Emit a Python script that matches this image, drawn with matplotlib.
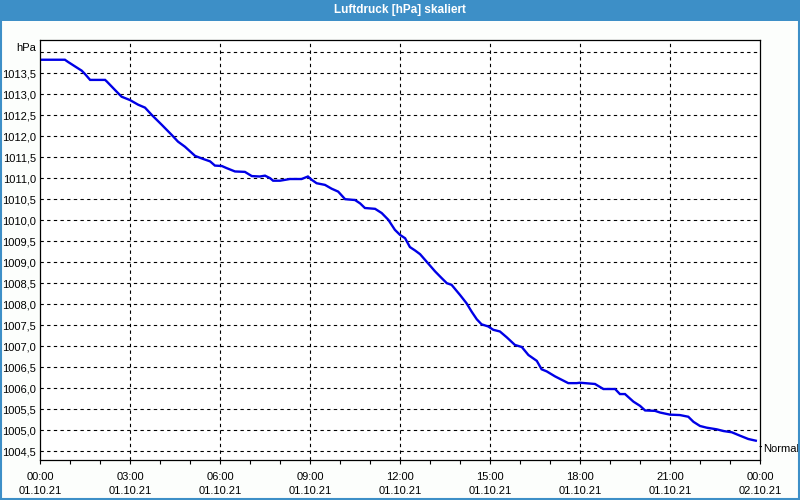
import numpy as np
import matplotlib
matplotlib.use("Agg")
import matplotlib.pyplot as plt
from matplotlib.patches import Rectangle

plt.rcParams['font.family'] = ['DejaVu Sans Condensed', 'Liberation Sans', 'DejaVu Sans']

# Data: hours since 01.10.21 00:00, pressure in hPa
hours = [0.0, 0.83, 0.93, 1.17, 1.39, 1.5, 1.67, 2.17, 2.23, 2.5, 2.72, 3.0, 3.27, 3.5,
         3.72, 4.06, 4.39, 4.6, 4.83, 5.17, 5.43, 5.67, 5.83, 6.06, 6.22, 6.5, 6.83, 7.06,
         7.33, 7.5, 7.67, 7.77, 8.0, 8.33, 8.72, 8.93, 9.06, 9.22, 9.5, 9.72, 9.94, 10.17,
         10.5, 10.67, 10.83, 11.17, 11.39, 11.61, 11.83, 12.0, 12.17, 12.33, 12.5, 12.67,
         12.89, 13.17, 13.39, 13.56, 13.72, 14.0, 14.22, 14.39, 14.56, 14.72, 14.94, 15.11,
         15.33, 15.56, 15.83, 16.06, 16.28, 16.56, 16.72, 16.89, 17.17, 17.39, 17.61, 17.89,
         18.0, 18.5, 18.78, 19.17, 19.33, 19.5, 19.78, 20.0, 20.17, 20.5, 20.67, 21.0,
         21.33, 21.61, 21.78, 22.0, 22.22, 22.56, 22.78, 23.06, 23.33, 23.61, 23.86]
pressure = [1013.82, 1013.82, 1013.77, 1013.66, 1013.56, 1013.48, 1013.34, 1013.34, 1013.30,
            1013.10, 1012.94, 1012.86, 1012.75, 1012.68, 1012.51, 1012.27, 1012.03, 1011.87,
            1011.75, 1011.53, 1011.46, 1011.40, 1011.30, 1011.29, 1011.24, 1011.16, 1011.15,
            1011.05, 1011.04, 1011.06, 1011.00, 1010.94, 1010.94, 1010.98, 1010.98, 1011.04,
            1010.96, 1010.88, 1010.84, 1010.75, 1010.68, 1010.50, 1010.48, 1010.40, 1010.29,
            1010.27, 1010.17, 1010.01, 1009.77, 1009.65, 1009.57, 1009.36, 1009.28, 1009.19,
            1009.01, 1008.78, 1008.62, 1008.50, 1008.46, 1008.22, 1008.02, 1007.82, 1007.64,
            1007.52, 1007.47, 1007.39, 1007.35, 1007.21, 1007.03, 1006.98, 1006.79, 1006.65,
            1006.45, 1006.40, 1006.28, 1006.20, 1006.12, 1006.12, 1006.13, 1006.10, 1005.98,
            1005.98, 1005.86, 1005.86, 1005.68, 1005.58, 1005.47, 1005.46, 1005.42, 1005.37,
            1005.36, 1005.32, 1005.20, 1005.10, 1005.06, 1005.02, 1004.98, 1004.95, 1004.87,
            1004.79, 1004.75]

y_ticks = [1004.5, 1005.0, 1005.5, 1006.0, 1006.5, 1007.0, 1007.5, 1008.0, 1008.5,
           1009.0, 1009.5, 1010.0, 1010.5, 1011.0, 1011.5, 1012.0, 1012.5, 1013.0, 1013.5]
x_ticks = [0, 3, 6, 9, 12, 15, 18, 21, 24]
x_labels = ["00:00\n01.10.21", "03:00\n01.10.21", "06:00\n01.10.21", "09:00\n01.10.21",
            "12:00\n01.10.21", "15:00\n01.10.21", "18:00\n01.10.21", "21:00\n01.10.21",
            "00:00\n02.10.21"]

bar_blue = "#3d8fc7"

fig = plt.figure(figsize=(8, 5), dpi=100)
fig.patch.set_facecolor("#fcfefc")

# title bar and frame
fig.patches.append(Rectangle((0, 0.958), 1, 0.042, transform=fig.transFigure,
                             facecolor=bar_blue, edgecolor="none", zorder=0))
fig.patches.append(Rectangle((0.001, 0.002), 0.998, 0.997, transform=fig.transFigure,
                             facecolor="none", edgecolor=bar_blue, linewidth=1.5, zorder=1))
fig.text(0.5, 0.979, "Luftdruck [hPa] skaliert", color="white", fontsize=8.5,
         fontweight="bold", ha="center", va="center")

ax = fig.add_axes([0.05, 0.08, 0.90, 0.84])
ax.set_facecolor("white")
ax.plot(hours, pressure, color="#0000e6", linewidth=1.7, solid_joinstyle="miter")

ax.set_xlim(0, 24)
ax.set_ylim(1004.29, 1014.29)

ax.set_yticks(y_ticks)
ax.set_yticklabels([f"{v:.1f}".replace(".", ",") for v in y_ticks], fontsize=8)
ax.tick_params(axis="y", length=0, pad=3)

ax.set_xticks(x_ticks)
ax.set_xticklabels(x_labels, fontsize=8, linespacing=1.5)
ax.set_xticks(np.arange(0, 25, 1), minor=True)
ax.tick_params(axis="x", which="both", direction="out", length=3, width=0.8, pad=6)

# dashed grid
for v in y_ticks + [1014.0]:
    ax.axhline(v, color="black", linestyle=(0, (3, 3)), linewidth=0.8, zorder=0)
for t in x_ticks[1:-1]:
    ax.axvline(t, color="black", linestyle=(0, (3, 3)), linewidth=0.8, zorder=0)

for s in ax.spines.values():
    s.set_linewidth(0.9)
    s.set_color("black")

ax.text(-0.006, 1014.1, "hPa", transform=ax.get_yaxis_transform(), fontsize=8,
        ha="right", va="center")
ax.annotate("", xy=(1.0, 1004.61), xytext=(1.006, 1004.61),
            xycoords=ax.get_yaxis_transform(), textcoords=ax.get_yaxis_transform(),
            arrowprops=dict(arrowstyle="-", color="black", lw=0.8))
ax.text(1.004, 1004.56, "Normal", transform=ax.get_yaxis_transform(), fontsize=8,
        ha="left", va="center")

fig.savefig("out.png", dpi=100, facecolor=fig.get_facecolor())
